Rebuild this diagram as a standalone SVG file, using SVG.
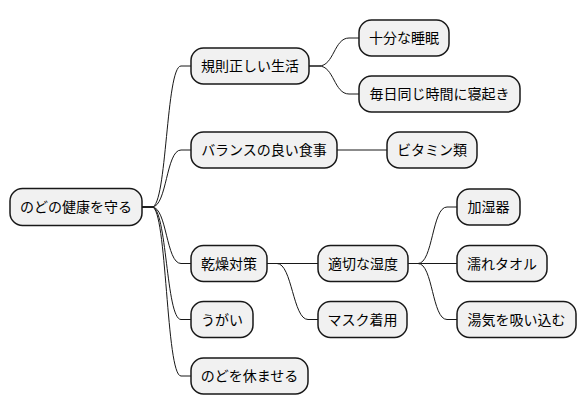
<svg xmlns="http://www.w3.org/2000/svg" width="586" height="415" viewBox="0 0 586 415">
<style>
.n rect{fill:#F1F1F1;stroke:#181818;stroke-width:1.5}
.n text{font-family:"Noto Sans CJK JP","Noto Sans",sans-serif;font-size:14px;fill:#000;text-anchor:middle}
#edges path{fill:none;stroke:#181818;stroke-width:1}
</style>
<rect width="586" height="415" fill="#FFFFFF"/>
<g id="edges">
<path d="M142,207 L152,207 C167,207 166,66 181,66 L191,66"/>
<path d="M142,207 L152,207 C167,207 166,150 181,150 L191,150"/>
<path d="M142,207 L152,207 C167,207 166,263.5 181,263.5 L191,263.5"/>
<path d="M142,207 L152,207 C167,207 166,319.5 181,319.5 L191,319.5"/>
<path d="M142,207 L152,207 C167,207 166,376 181,376 L191,376"/>
<path d="M309,66 L319,66 C334,66 334,38 349,38 L359,38"/>
<path d="M309,66 L319,66 C334,66 334,94 349,94 L359,94"/>
<path d="M337,150 L387,150"/>
<path d="M267,263.5 L318,263.5"/>
<path d="M267,263.5 L277,263.5 C292,263.5 293,319.5 308,319.5 L318,319.5"/>
<path d="M408,263.5 L418,263.5 C433,263.5 432,207 447,207 L457,207"/>
<path d="M408,263.5 L457,263.5"/>
<path d="M408,263.5 L418,263.5 C433,263.5 432,319.5 447,319.5 L457,319.5"/>
</g>
<g id="root" class="n"><rect x="10" y="188.5" width="132" height="37" rx="12.5"/><text x="76" y="212">のどの健康を守る</text></g>
<g id="n1" class="n"><rect x="191" y="48" width="118" height="36" rx="12.5"/><text x="250" y="71">規則正しい生活</text></g>
<g id="n1a" class="n"><rect x="359" y="20" width="90" height="36" rx="12.5"/><text x="404" y="43">十分な睡眠</text></g>
<g id="n1b" class="n"><rect x="359" y="76" width="161" height="36" rx="12.5"/><text x="439.5" y="99">毎日同じ時間に寝起き</text></g>
<g id="n2" class="n"><rect x="191" y="132" width="146" height="36" rx="12.5"/><text x="264" y="155">バランスの良い食事</text></g>
<g id="n2a" class="n"><rect x="387" y="132" width="90" height="36" rx="12.5"/><text x="432" y="155">ビタミン類</text></g>
<g id="n3" class="n"><rect x="191" y="245.5" width="76" height="36" rx="12.5"/><text x="229" y="268.5">乾燥対策</text></g>
<g id="n3a" class="n"><rect x="318" y="245.5" width="90" height="36" rx="12.5"/><text x="363" y="268.5">適切な湿度</text></g>
<g id="n3a1" class="n"><rect x="457" y="189" width="63" height="36" rx="12.5"/><text x="488.5" y="212">加湿器</text></g>
<g id="n3a2" class="n"><rect x="457" y="245.5" width="90" height="36" rx="12.5"/><text x="502" y="268.5">濡れタオル</text></g>
<g id="n3a3" class="n"><rect x="457" y="301.5" width="119" height="36" rx="12.5"/><text x="516.5" y="324.5">湯気を吸い込む</text></g>
<g id="n3b" class="n"><rect x="318" y="301.5" width="89" height="36" rx="12.5"/><text x="362.5" y="324.5">マスク着用</text></g>
<g id="n4" class="n"><rect x="191" y="301.5" width="62" height="36" rx="12.5"/><text x="222" y="324.5">うがい</text></g>
<g id="n5" class="n"><rect x="191" y="358" width="117" height="36" rx="12.5"/><text x="249.5" y="381">のどを休ませる</text></g>
</svg>
